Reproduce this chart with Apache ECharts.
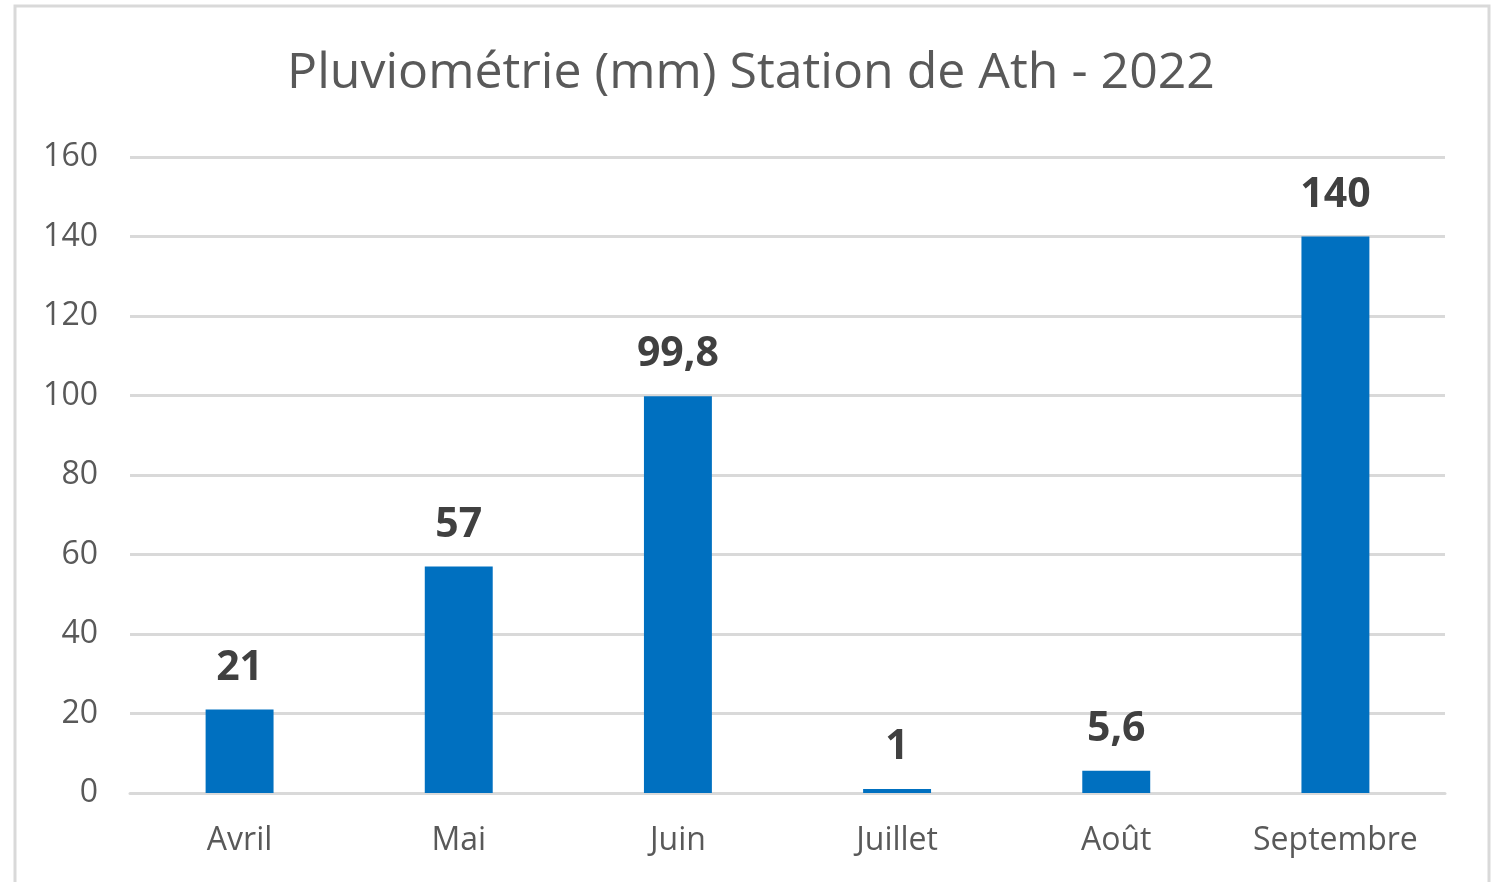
<!DOCTYPE html>
<html>
<head>
<meta charset="utf-8">
<script src="https://cdn.jsdelivr.net/npm/echarts@6/dist/echarts.min.js"></script>
<style>
  html, body { margin: 0; padding: 0; background: #fff; }
  #box { width: 1502px; height: 882px; }
</style>
</head>
<body>
<div id="box"></div>
<script>
  const months = ['Avril', 'Mai', 'Juin', 'Juillet', 'Août', 'Septembre'];
  const rainfall = [21, 57, 99.8, 1, 5.6, 140];
  const yTicks = [0, 20, 40, 60, 80, 100, 120, 140, 160];

  const font = '"Open Sans", Lato, sans-serif';
  const chart = echarts.init(document.getElementById('box'));

  chart.setOption({
    animation: false,
    textStyle: { fontFamily: font },
    title: {
      text: 'Pluviométrie (mm) Station de Ath - 2022',
      left: 'center',
      top: 44,
      textStyle: { fontSize: 50, fontWeight: 'normal', color: '#595959', fontFamily: font },
    },
    graphic: [{
      type: 'rect',
      shape: { x: 15, y: 6, width: 1474, height: 900 },
      style: { fill: 'none', stroke: '#d9d9d9', lineWidth: 3 },
      silent: true,
    }],
    grid: { left: 130, right: 57, top: 157, bottom: 89 },
    xAxis: {
      type: 'category',
      data: months,
      axisLine: { show: true, lineStyle: { color: '#d9d9d9', width: 3 } },
      axisTick: { show: false },
      axisLabel: { fontSize: 32, color: '#595959', margin: 32, fontFamily: font },
    },
    yAxis: {
      type: 'value',
      min: yTicks[0],
      max: yTicks[yTicks.length - 1],
      interval: 20,
      axisLine: { show: false },
      axisTick: { show: false },
      splitLine: { lineStyle: { color: '#d9d9d9', width: 3 } },
      axisLabel: { fontSize: 32, color: '#595959', margin: 32, fontFamily: font },
    },
    series: [{
      type: 'bar',
      data: rainfall,
      barWidth: '31%',
      itemStyle: { color: '#0070c0' },
      label: {
        show: true,
        position: 'top',
        distance: 21,
        fontSize: 41,
        fontWeight: 'bold',
        color: '#404040',
        fontFamily: font,
        formatter: (p) => String(p.value).replace('.', ','),
      },
    }],
  });
</script>
</body>
</html>
